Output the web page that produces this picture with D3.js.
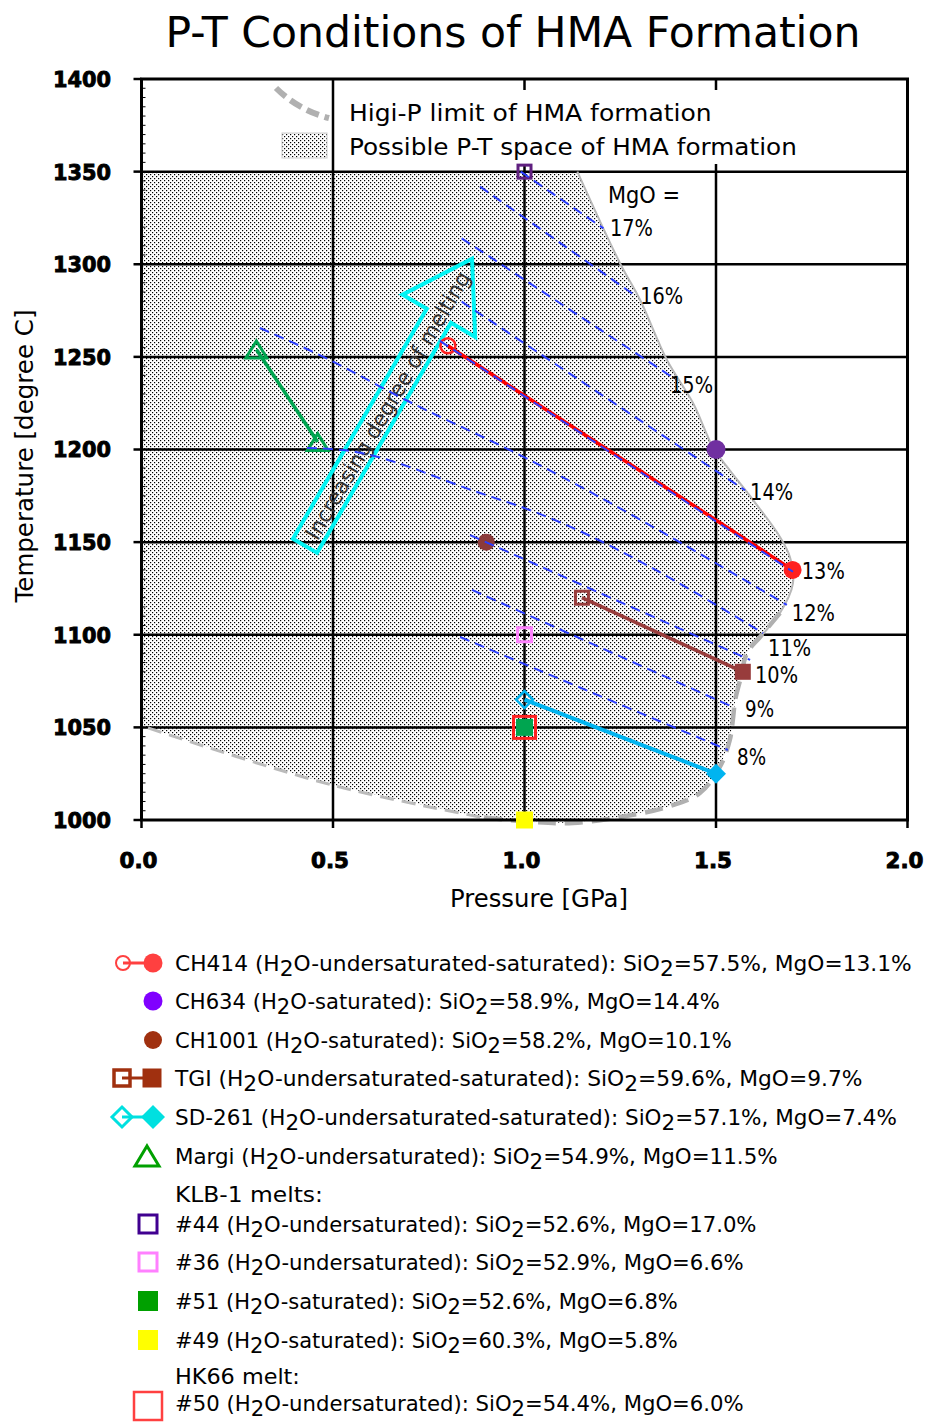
<!DOCTYPE html>
<html><head><meta charset="utf-8">
<script src="https://cdn.jsdelivr.net/npm/d3@7"></script>
<style>
html,body{margin:0;padding:0;background:#fff;}
svg{display:block;}
text{font-family:"DejaVu Sans",Verdana,sans-serif;fill:#000;}
</style></head><body>
<svg id="chart" width="926" height="1423"></svg>
<script>
// ---------- DATA ----------
const xTicks = [0, 0.5, 1.0, 1.5, 2.0];
const xTickLabels = ["0.0", "0.5", "1.0", "1.5", "2.0"];
const yTicks = [1000, 1050, 1100, 1150, 1200, 1250, 1300, 1350, 1400];
const yTickLabels = ["1000", "1050", "1100", "1150", "1200", "1250", "1300", "1350", "1400"];

// possible P-T space boundary (P in GPa, T in degree C)
const boundaryP = [0, 1.138, 1.249, 1.302, 1.372, 1.440, 1.492, 1.529, 1.597, 1.667, 1.693, 1.701, 1.667, 1.615, 1.581, 1.563, 1.550, 1.544, 1.536, 1.510, 1.458, 1.372, 1.249, 1.127, 1.022, 0.884, 0.497, 0.017, 0];
const boundaryT = [1350, 1350, 1300.7, 1280.7, 1248.3, 1225.1, 1201.3, 1190.6, 1172.7, 1152.8, 1142, 1127.9, 1111.7, 1098.8, 1090.1, 1075.6, 1064.8, 1054, 1043.2, 1028.6, 1014.6, 1007, 1001.6, 998.4, 998.9, 1001.6, 1018.9, 1049.7, 1050];

// MgO isopleths
const mgoLabels = ["17%", "16%", "15%", "14%", "13%", "12%", "11%", "10%", "9%", "8%"];
const iso17 = [[0.99, 1350], [1.206, 1319.4]];
const iso16 = [[0.884, 1341.9], [1.293, 1282.5]];
const iso15 = [[0.836, 1314], [1.397, 1237.5]];
const iso14 = [[0.836, 1279.8], [1.576, 1178]];
const iso13 = [[0.779, 1258.6], [1.701, 1134]];
const iso12 = [[0.309, 1265.6], [0.492, 1248.3], [0.675, 1228.3], [1.014, 1194.3], [1.685, 1116.1]];
const iso11 = [[0.432, 1200.8], [0.526, 1199.7], [0.884, 1176.5], [1.014, 1167.3], [1.623, 1100.9]];
const iso10 = [[0.858, 1153.8], [1.589, 1086.4]];
const iso9 = [[0.863, 1124.2], [1.544, 1061]];
const iso8 = [[0.832, 1098.8], [1.531, 1037.8]];
const mgoLabelP = [1.223, 1.302, 1.380, 1.589, 1.724, 1.698, 1.636, 1.602, 1.576, 1.555];
const mgoLabelT = [1319.6, 1282.9, 1234.8, 1177.1, 1134.4, 1111.7, 1092.8, 1078.3, 1059.9, 1034];

// experimental melts
const ch414P = [0.80, 1.70], ch414T = [1256, 1135];
const ch634P = [1.5], ch634T = [1200];
const ch1001P = [0.9], ch1001T = [1150];
const tgiP = [1.15, 1.57], tgiT = [1120, 1080];
const sd261P = [1.0, 1.5], sd261T = [1065, 1025];
const margiP = [0.30, 0.46], margiT = [1254, 1204];
const klb44P = [1.0], klb44T = [1350];
const klb36P = [1.0], klb36T = [1100];
const klb51P = [1.0], klb51T = [1050];
const klb49P = [1.0], klb49T = [1000];
const hk50P = [1.0], hk50T = [1050];

// arrow annotation (from, to) in P-T
const arrowFrom = [0.427, 1148], arrowTo = [0.863, 1303];

const legendLabels = [
  "CH414 (H2O-undersaturated-saturated): SiO2=57.5%, MgO=13.1%",
  "CH634 (H2O-saturated): SiO2=58.9%, MgO=14.4%",
  "CH1001 (H2O-saturated): SiO2=58.2%, MgO=10.1%",
  "TGI (H2O-undersaturated-saturated): SiO2=59.6%, MgO=9.7%",
  "SD-261 (H2O-undersaturated-saturated): SiO2=57.1%, MgO=7.4%",
  "Margi (H2O-undersaturated): SiO2=54.9%, MgO=11.5%",
  "KLB-1 melts:",
  "#44 (H2O-undersaturated): SiO2=52.6%, MgO=17.0%",
  "#36 (H2O-undersaturated): SiO2=52.9%, MgO=6.6%",
  "#51 (H2O-saturated): SiO2=52.6%, MgO=6.8%",
  "#49 (H2O-saturated): SiO2=60.3%, MgO=5.8%",
  "HK66 melt:",
  "#50 (H2O-undersaturated): SiO2=54.4%, MgO=6.0%"
];

// ---------- CHART ----------
const svg = d3.select("#chart");
const x = d3.scaleLinear().domain([0, 2]).range([141.5, 907.5]);
const y = d3.scaleLinear().domain([1000, 1400]).range([820, 79]);

function fitW(sel, target) {
  const w = sel.node().getComputedTextLength();
  const s = target / w;
  const x0 = +sel.attr("x") || 0;
  sel.attr("transform", `translate(${x0 * (1 - s)},0) scale(${s},1)`);
}
function withSub(sel, str) {
  const parts = str.split(/2(?=[O=])/);
  parts.forEach((p, i) => {
    if (i > 0) {
      sel.append("tspan").attr("dy", 5.5).text("2");
      sel.append("tspan").attr("dy", -5.5).text(p);
    } else sel.append("tspan").text(p);
  });
}

const defs = svg.append("defs");
const pat = defs.append("pattern").attr("id", "dots").attr("patternUnits", "userSpaceOnUse")
  .attr("width", 4).attr("height", 4);
pat.append("rect").attr("width", 4).attr("height", 4).attr("fill", "#fff");
pat.append("rect").attr("x", 0).attr("y", 0).attr("width", 1.2).attr("height", 1.2).attr("fill", "#000");
pat.append("rect").attr("x", 2).attr("y", 2).attr("width", 1.2).attr("height", 1.2).attr("fill", "#000");

// title
const title = svg.append("text").attr("x", 513).attr("y", 47).attr("text-anchor", "middle")
  .style("font-size", "43px").text("P-T Conditions of HMA Formation");
fitW(title, 695);

// shaded region
const bpts = boundaryP.map((p, i) => [x(p), y(boundaryT[i])]);
svg.append("path").attr("d", d3.line()(bpts) + "Z").attr("fill", "url(#dots)").attr("stroke", "none");

// grid
const g = svg.append("g");
g.selectAll(".vg").data(xTicks.slice(1, -1)).join("line")
  .attr("x1", d => x(d)).attr("x2", d => x(d)).attr("y1", y(1400)).attr("y2", y(1000))
  .attr("stroke", "#000").attr("stroke-width", 2.5);
g.selectAll(".hg").data(yTicks.slice(1, -1)).join("line")
  .attr("y1", d => y(d)).attr("y2", d => y(d)).attr("x1", x(0)).attr("x2", x(2))
  .attr("stroke", "#000").attr("stroke-width", 2.5);
// minor ticks on left axis
const minorY = d3.range(1005, 1400, 5).filter(v => v % 50 !== 0);
g.selectAll(".my").data(minorY).join("line")
  .attr("x1", x(0)).attr("x2", x(0) + 4).attr("y1", d => y(d)).attr("y2", d => y(d))
  .attr("stroke", "#000").attr("stroke-width", 1);
// major outward ticks
g.selectAll(".ty").data(yTicks).join("line")
  .attr("x1", x(0) - 8).attr("x2", x(0)).attr("y1", d => y(d)).attr("y2", d => y(d))
  .attr("stroke", "#000").attr("stroke-width", 2.5);
g.selectAll(".tx").data(xTicks).join("line")
  .attr("x1", d => x(d)).attr("x2", d => x(d)).attr("y1", y(1000)).attr("y2", y(1000) + 8)
  .attr("stroke", "#000").attr("stroke-width", 2.5);

// boundary lines
const bl = d3.line().x(d => x(d[0])).y(d => y(d[1])).curve(d3.curveCatmullRom);
const bData = boundaryP.map((p, i) => [p, boundaryT[i]]);
svg.append("path").attr("d", bl(bData.slice(1, 14))).attr("fill", "none")
  .attr("stroke", "#b8b8b8").attr("stroke-width", 2);
svg.append("path").attr("d", bl(bData.slice(12, 26))).attr("fill", "none")
  .attr("stroke", "#b0b0b0").attr("stroke-width", 4.5).attr("stroke-dasharray", "18,9");
svg.append("path").attr("d", bl(bData.slice(25, 28))).attr("fill", "none")
  .attr("stroke", "#bbbbbb").attr("stroke-width", 3).attr("stroke-dasharray", "14,8");

// frame
svg.append("rect").attr("x", x(0)).attr("y", y(1400)).attr("width", x(2) - x(0)).attr("height", y(1000) - y(1400))
  .attr("fill", "none").attr("stroke", "#000").attr("stroke-width", 3);

// in-plot legend
svg.append("rect").attr("x", 338).attr("y", 90).attr("width", 468).attr("height", 74).attr("fill", "#fff");
svg.append("path").attr("d", "M276,88 Q298,110 329,118").attr("fill", "none")
  .attr("stroke", "#b0b0b0").attr("stroke-width", 6).attr("stroke-dasharray", "13,6");
svg.append("rect").attr("x", 282).attr("y", 133).attr("width", 45).attr("height", 25)
  .attr("fill", "url(#dots)").attr("stroke", "#ccc").attr("stroke-width", 1);
const l1 = svg.append("text").attr("x", 349).attr("y", 121).style("font-size", "23px").text("Higi-P limit of HMA formation");
fitW(l1, 363);
const l2 = svg.append("text").attr("x", 349).attr("y", 155).style("font-size", "23px").text("Possible P-T space of HMA formation");
fitW(l2, 448);

// arrow
{
  const t0 = [x(arrowFrom[0]), y(arrowFrom[1])], t1 = [x(arrowTo[0]), y(arrowTo[1])];
  const dx = t1[0] - t0[0], dy = t1[1] - t0[1], L = Math.hypot(dx, dy);
  const u = [dx / L, dy / L], n = [-u[1], u[0]];
  const hw = 14, hh = 42, hl = 66;
  const P = (a, b) => [t0[0] + u[0] * a + n[0] * b, t0[1] + u[1] * a + n[1] * b];
  const pts = [P(0, hw), P(L - hl, hw), P(L - hl, hh), P(L, 0), P(L - hl, -hh), P(L - hl, -hw), P(0, -hw)];
  svg.append("path").attr("d", d3.line()(pts) + "Z").attr("fill", "none")
    .attr("stroke", "#00f4f4").attr("stroke-width", 4).attr("stroke-linejoin", "miter");
  const ang = Math.atan2(u[1], u[0]) * 180 / Math.PI;
  const c = P(163, 1);
  const ag = svg.append("g").attr("transform", `translate(${c[0]},${c[1]}) rotate(${ang})`);
  const at = ag.append("text").attr("x", 0).attr("y", 0).attr("text-anchor", "middle")
    .attr("dominant-baseline", "central").style("font-size", "22px").style("fill", "#333")
    .text("Increasing degree of melting");
  fitW(at, 306);
}

// series
const lineW = (P, T, col, w) => svg.append("path")
  .attr("d", d3.line()(P.map((p, i) => [x(p), y(T[i])]))).attr("fill", "none")
  .attr("stroke", col).attr("stroke-width", w);
const sq = (cx, cy, s, fill, stroke, sw) => svg.append("rect").attr("x", cx - s / 2).attr("y", cy - s / 2)
  .attr("width", s).attr("height", s).attr("fill", fill).attr("stroke", stroke).attr("stroke-width", sw);
const circ = (cx, cy, r, fill, stroke, sw) => svg.append("circle").attr("cx", cx).attr("cy", cy).attr("r", r)
  .attr("fill", fill).attr("stroke", stroke).attr("stroke-width", sw);
const diam = (cx, cy, h, fill, stroke, sw) => svg.append("path")
  .attr("d", `M${cx},${cy - h}L${cx + h},${cy}L${cx},${cy + h}L${cx - h},${cy}Z`)
  .attr("fill", fill).attr("stroke", stroke).attr("stroke-width", sw);
const tri = (cx, cy, w, h, fill, stroke, sw) => svg.append("path")
  .attr("d", `M${cx},${cy - h / 2}L${cx + w / 2},${cy + h / 2}L${cx - w / 2},${cy + h / 2}Z`)
  .attr("fill", fill).attr("stroke", stroke).attr("stroke-width", sw);

// Margi
lineW(margiP, margiT, "#00a550", 3.5);
margiP.forEach((p, i) => tri(x(p), y(margiT[i]), 21, 17, "none", "#00a550", 3));
// SD-261
lineW(sd261P, sd261T, "#00b4f0", 4);
diam(x(sd261P[0]), y(sd261T[0]), 8.5, "none", "#00b4f0", 2.5);
diam(x(sd261P[1]), y(sd261T[1]), 10, "#00b4f0", "none", 0);
// TGI
lineW(tgiP, tgiT, "#983c3c", 3.5);
sq(x(tgiP[0]), y(tgiT[0]), 13, "none", "#983c3c", 3);
sq(x(tgiP[1]), y(tgiT[1]), 16, "#983c3c", "none", 0);
// CH414
lineW(ch414P, ch414T, "#ff0000", 3.5);
circ(x(ch414P[0]), y(ch414T[0]), 7.5, "none", "#ff2020", 2.5);
circ(x(ch414P[1]), y(ch414T[1]), 9, "#ff2020", "none", 0);
// CH634, CH1001
circ(x(ch634P[0]), y(ch634T[0]), 9.5, "#7030a0", "none", 0);
circ(x(ch1001P[0]), y(ch1001T[0]), 8.5, "#8b3a3a", "none", 0);
// KLB-1 and HK66
sq(x(klb44P[0]), y(klb44T[0]), 13, "none", "#602080", 3);
sq(x(klb36P[0]), y(klb36T[0]), 14, "none", "#ff80ff", 3);
sq(x(klb51P[0]), y(klb51T[0]), 17, "#00a550", "none", 0);
sq(x(hk50P[0]), y(hk50T[0]), 22, "none", "#ff2020", 3);
sq(x(klb49P[0]), y(klb49T[0]), 17, "#ffff00", "none", 0);

// isopleths
const isos = [iso17, iso16, iso15, iso14, iso13, iso12, iso11, iso10, iso9, iso8];
const il = d3.line().x(d => x(d[0])).y(d => y(d[1])).curve(d3.curveMonotoneX);
svg.selectAll(".iso").data(isos).join("path").attr("d", d => il(d)).attr("fill", "none")
  .attr("stroke", "#2a3cff").attr("stroke-width", 2).attr("stroke-dasharray", "10,6");

// isopleth labels
svg.append("text").attr("x", x(1.218)).attr("y", y(1337.4) + 8).style("font-size", "23px").text("MgO =")
  .call(s => fitW(s, 72));
mgoLabels.forEach((lab, i) => {
  const t = svg.append("text").attr("x", x(mgoLabelP[i])).attr("y", y(mgoLabelT[i]) + 8)
    .style("font-size", "23px").text(lab);
  fitW(t, lab.length === 3 ? 43 : 29);
});

// axis tick labels (heavy)
yTicks.forEach((v, i) => {
  const t = svg.append("text").attr("x", 111).attr("y", y(v) + 8).attr("text-anchor", "end")
    .style("font-size", "22px").style("font-weight", "bold")
    .style("stroke", "#000").style("stroke-width", "0.9px").text(yTickLabels[i]);
  fitW(t, 58);
});
xTicks.forEach((v, i) => {
  const t = svg.append("text").attr("x", x(v) - 3).attr("y", 868).attr("text-anchor", "middle")
    .style("font-size", "22px").style("font-weight", "bold")
    .style("stroke", "#000").style("stroke-width", "0.9px").text(xTickLabels[i]);
  fitW(t, 38);
});

// axis titles
const xt = svg.append("text").attr("x", 539).attr("y", 907).attr("text-anchor", "middle")
  .style("font-size", "24px").text("Pressure [GPa]");
fitW(xt, 178);
const yg = svg.append("g").attr("transform", "translate(33,456) rotate(-90)");
const yt = yg.append("text").attr("x", 0).attr("y", 0).attr("text-anchor", "middle")
  .style("font-size", "24px").text("Temperature [degree C]");
fitW(yt, 293);

// bottom legend
const rowY = [963, 1001, 1040, 1078, 1117, 1156, 1194, 1224, 1262, 1301, 1340, 1376, 1403];
const rowW = [737, 545, 557, 688, 722, 603, 148, 582, 569, 503, 503, 125, 569];
legendLabels.forEach((lab, i) => {
  const t = svg.append("text").attr("x", 175).attr("y", rowY[i] + 8).style("font-size", "22px");
  withSub(t, lab);
  fitW(t, rowW[i]);
});
// legend markers
{
  const r = rowY;
  circ(123, r[0], 7, "#fff", "#ff4040", 2);
  svg.append("line").attr("x1", 123).attr("x2", 153).attr("y1", r[0]).attr("y2", r[0]).attr("stroke", "#ff4040").attr("stroke-width", 3);
  circ(153, r[0], 9.5, "#ff4040", "none", 0);
  circ(153, r[1], 9.5, "#8000ff", "none", 0);
  circ(153, r[2], 9, "#a0300f", "none", 0);
  sq(122, r[3], 16, "#fff", "#a0300f", 3.5);
  svg.append("line").attr("x1", 122).attr("x2", 152).attr("y1", r[3]).attr("y2", r[3]).attr("stroke", "#a0300f").attr("stroke-width", 3);
  sq(152, r[3], 19, "#a0300f", "none", 0);
  diam(122, r[4], 10, "#fff", "#00e0e0", 3);
  svg.append("line").attr("x1", 122).attr("x2", 153).attr("y1", r[4]).attr("y2", r[4]).attr("stroke", "#00e0e0").attr("stroke-width", 3);
  diam(153, r[4], 12, "#00e0e0", "none", 0);
  tri(147, r[5], 24, 20, "none", "#00a000", 3);
  sq(148, r[7], 18, "none", "#400090", 3);
  sq(148, r[8], 18, "none", "#ff80ff", 3);
  sq(148, r[9], 20, "#00a000", "none", 0);
  sq(148, r[10], 20, "#ffff00", "none", 0);
  sq(148, 1406, 28, "none", "#ff4040", 2.5);
}
</script></body></html>
